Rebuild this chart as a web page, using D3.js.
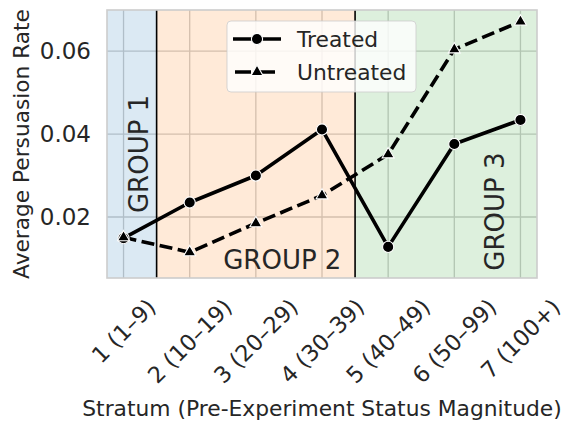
<!DOCTYPE html>
<html>
<head>
<meta charset="utf-8">
<script src="https://cdn.jsdelivr.net/npm/d3@7"></script>
<style>
  html, body { margin: 0; padding: 0; background: #ffffff; }
  svg { display: block; font-family: "DejaVu Sans", sans-serif; }
</style>
</head>
<body>
<svg id="chart" width="565" height="421"></svg>
<script>
// ---- data ----
const categories = ["1 (1\u20139)", "2 (10\u201319)", "3 (20\u201329)", "4 (30\u201339)", "5 (40\u201349)", "6 (50\u201399)", "7 (100+)"];
const treated   = [0.0149, 0.0235, 0.0300, 0.0411, 0.0128, 0.0376, 0.0434];
const untreated = [0.0151, 0.0115, 0.0185, 0.0252, 0.0351, 0.0604, 0.0671];
const yTicks = [0.02, 0.04, 0.06];
const seriesNames = ["Treated", "Untreated"];
const groups = [
  { name: "GROUP 1", from: -0.5, to: 0.5, color: "#1f77b4", lx: 0.23, ly: 0.0352, rot: true },
  { name: "GROUP 2", from: 0.5, to: 3.5, color: "#ff7f0e", lx: 2.4, ly: 0.0096, rot: false },
  { name: "GROUP 3", from: 3.5, to: 6.5, color: "#2ca02c", lx: 5.62, ly: 0.0213, rot: true }
];
const dividers = [0.5, 3.5];

// ---- layout ----
const W = 565, H = 421;
const margin = { left: 107, top: 10, right: 28, bottom: 143 };
const x0 = margin.left, x1 = W - margin.right, y0 = margin.top, y1 = H - margin.bottom;
const textColor = "#262626";

const svg = d3.select("#chart");
const x = d3.scaleLinear().domain([-0.25, 6.25]).range([x0, x1]);
const y = d3.scaleLinear().domain([0.0053, 0.0699]).range([y1, y0]);

const clipId = "plotclip";
svg.append("defs").append("clipPath").attr("id", clipId)
  .append("rect").attr("x", x0).attr("y", y0).attr("width", x1 - x0).attr("height", y1 - y0);

// grid
const grid = svg.append("g");
grid.selectAll("line.gx").data(categories).join("line")
  .attr("x1", (d, i) => x(i)).attr("x2", (d, i) => x(i))
  .attr("y1", y0).attr("y2", y1)
  .attr("stroke", "#cccccc").attr("stroke-width", 1.3);
grid.selectAll("line.gy").data(yTicks).join("line")
  .attr("x1", x0).attr("x2", x1)
  .attr("y1", d => y(d)).attr("y2", d => y(d))
  .attr("stroke", "#cccccc").attr("stroke-width", 1.3);

// spans
const plot = svg.append("g").attr("clip-path", `url(#${clipId})`);
plot.selectAll("rect.span").data(groups).join("rect")
  .attr("x", d => x(d.from)).attr("width", d => x(d.to) - x(d.from))
  .attr("y", y0).attr("height", y1 - y0)
  .attr("fill", d => d.color).attr("fill-opacity", 0.16);

// dividers
plot.selectAll("line.div").data(dividers).join("line")
  .attr("x1", d => x(d)).attr("x2", d => x(d))
  .attr("y1", y0).attr("y2", y1)
  .attr("stroke", "#000").attr("stroke-width", 1.6);

// group labels
groups.forEach(g => {
  const t = svg.append("text")
    .attr("font-size", 26).attr("fill", textColor)
    .attr("text-anchor", "middle").attr("dominant-baseline", "central")
    .text(g.name);
  if (g.rot) t.attr("transform", `translate(${x(g.lx)},${y(g.ly)}) rotate(-90)`);
  else t.attr("x", x(g.lx)).attr("y", y(g.ly));
});

// lines
const line = d3.line().x((d, i) => x(i)).y(d => y(d));
plot.append("path").datum(treated).attr("d", line)
  .attr("fill", "none").attr("stroke", "#000").attr("stroke-width", 3.6).attr("stroke-linejoin", "round");
plot.append("path").datum(untreated).attr("d", line)
  .attr("fill", "none").attr("stroke", "#000").attr("stroke-width", 3.6)
  .attr("stroke-dasharray", "13,5.5");

// markers
const tri = d3.symbol().type(d3.symbolTriangle).size(62);
svg.selectAll("circle.t").data(treated).join("circle")
  .attr("cx", (d, i) => x(i)).attr("cy", d => y(d)).attr("r", 5.6)
  .attr("fill", "#000").attr("stroke", "#fff").attr("stroke-width", 1.1);
svg.selectAll("path.u").data(untreated).join("path")
  .attr("d", tri)
  .attr("transform", (d, i) => `translate(${x(i)},${y(d)})`)
  .attr("fill", "#000").attr("stroke", "#fff").attr("stroke-width", 1.1);

// spine
svg.append("rect").attr("x", x0).attr("y", y0).attr("width", x1 - x0).attr("height", y1 - y0)
  .attr("fill", "none").attr("stroke", "#cccccc").attr("stroke-width", 1.6);

// y ticks
svg.selectAll("text.yt").data(yTicks).join("text")
  .attr("x", x0 - 16).attr("y", d => y(d)).attr("dy", "0.36em")
  .attr("text-anchor", "end").attr("font-size", 23).attr("fill", textColor)
  .text(d => d3.format(".2f")(d));

// x ticks (rotated 45, bbox centered on tick, top aligned)
const tickTop = 295;
const fs = 22.5;
svg.selectAll("text.xt").data(categories).join("text")
  .attr("font-size", fs).attr("fill", textColor)
  .attr("text-anchor", "middle").attr("dominant-baseline", "central")
  .text(d => d)
  .each(function(d, i) {
    const w = this.getComputedTextLength();
    const h = fs * 1.0;
    const cy = tickTop + (w + h) / (2 * Math.SQRT2);
    d3.select(this).attr("transform", `translate(${x(i)},${cy}) rotate(-45)`);
  });

// axis titles
svg.append("text").attr("x", (x0 + x1) / 2).attr("y", 416)
  .attr("text-anchor", "middle").attr("font-size", 21.8).attr("fill", textColor)
  .text("Stratum (Pre-Experiment Status Magnitude)");
svg.append("text").attr("transform", `translate(29,${(y0 + y1) / 2}) rotate(-90)`)
  .attr("text-anchor", "middle").attr("font-size", 21.7).attr("fill", textColor)
  .text("Average Persuasion Rate");

// legend
const lg = svg.append("g");
lg.append("rect").attr("x", 227).attr("y", 21).attr("width", 189).attr("height", 71).attr("rx", 4)
  .attr("fill", "#ffffff").attr("fill-opacity", 0.8)
  .attr("stroke", "#cccccc").attr("stroke-opacity", 0.8).attr("stroke-width", 1);
const rows = [39, 72];
seriesNames.forEach((name, k) => {
  const ly = rows[k];
  if (k === 0) {
    lg.append("line").attr("x1", 233).attr("x2", 281).attr("y1", ly).attr("y2", ly)
      .attr("stroke", "#000").attr("stroke-width", 3.6);
    lg.append("circle").attr("cx", 257).attr("cy", ly).attr("r", 5.6)
      .attr("fill", "#000").attr("stroke", "#fff").attr("stroke-width", 1.1);
  } else {
    lg.append("line").attr("x1", 235).attr("x2", 275).attr("y1", ly).attr("y2", ly)
      .attr("stroke", "#000").attr("stroke-width", 3.6).attr("stroke-dasharray", "16,8");
    lg.append("path").attr("d", tri).attr("transform", `translate(257,${ly})`)
      .attr("fill", "#000").attr("stroke", "#fff").attr("stroke-width", 1.1);
  }
  lg.append("text").attr("x", 297).attr("y", ly).attr("dy", "0.36em")
    .attr("font-size", 21.8).attr("fill", textColor).text(name);
});
</script>
</body>
</html>
